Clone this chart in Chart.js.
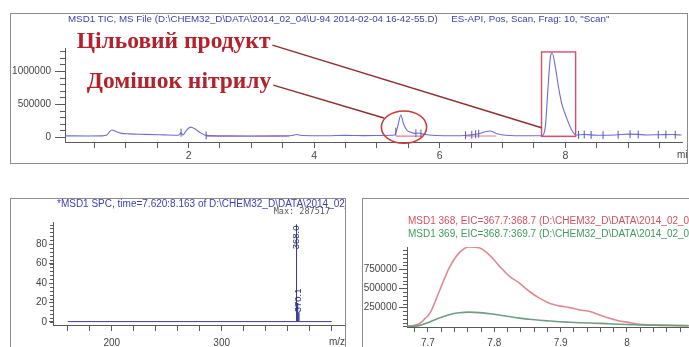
<!DOCTYPE html>
<html>
<head>
<meta charset="utf-8">
<script src="https://cdn.jsdelivr.net/npm/chart.js@4.4.1/dist/chart.umd.min.js"></script>
<style>
  html, body { margin: 0; padding: 0; background: #fff; width: 689px; height: 347px; overflow: hidden; }
  .panel { position: absolute; border: 1px solid #8c8c8c; overflow: hidden; background: #fff; }
  #ticPanel { left: 10px; top: 13px; width: 676px; height: 149px; }
  #spcPanel { left: 10px; top: 198px; width: 334px; height: 160px; }
  #eicPanel { left: 362px; top: 198px; width: 340px; height: 160px; }
  canvas { position: absolute; left: 0; top: 0; }
</style>
</head>
<body>
<div class="panel" id="ticPanel"><canvas id="tic" width="676" height="149"></canvas></div>
<div class="panel" id="spcPanel"><canvas id="spc" width="334" height="148"></canvas></div>
<div class="panel" id="eicPanel"><canvas id="eic" width="326" height="148"></canvas></div>
<script>
// ---- Total ion chromatogram (retention time, min / counts) ----
const ticTime = [0.04, 0.40, 0.62, 0.70, 0.74, 0.78, 0.84, 0.92, 1.05, 1.30, 1.60, 1.84, 1.88, 1.91, 1.96, 2.03, 2.10, 2.18, 2.28, 2.60,
  3.00, 3.40, 3.65, 3.72, 3.80, 4.20, 4.50, 4.80, 5.10, 5.28, 5.33, 5.38, 5.42, 5.47, 5.53, 5.60, 5.66, 5.72, 5.80, 5.95,
  6.20, 6.45, 6.60, 6.72, 6.80, 6.90, 7.05, 7.40, 7.62, 7.68, 7.72, 7.76, 7.79, 7.84, 7.89, 7.94, 8.02, 8.10, 8.17, 8.30,
  8.50, 8.80, 9.00, 9.15, 9.30, 9.50, 9.70, 9.85];
const ticIntensity = [18000, 16000, 18000, 30000, 80000, 106000, 85000, 60000, 48000, 40000, 33000, 28000, 65000, 32000, 95000, 150000, 125000, 70000, 25000, 18000,
  17000, 18000, 24000, 38000, 24000, 20000, 26000, 22000, 24000, 30000, 160000, 335000, 210000, 110000, 75000, 55000, 62000, 48000, 35000, 24000,
  20000, 28000, 45000, 80000, 92000, 55000, 28000, 20000, 20000, 150000, 700000, 1200000, 1275000, 1065000, 760000, 515000, 290000, 106000, 30000, 38000,
  28000, 32000, 45000, 40000, 32000, 35000, 38000, 30000];
// integration baselines and peak start/stop marks
const intStart = [2.28, 5.30, 6.41, 7.64];
const intEnd   = [3.60, 5.72, 6.90, 8.16];
const intLevel = [12000, 14000, 16000, 10000];
const markTime = [1.88, 2.28, 5.30, 5.62, 5.70, 6.41, 6.51, 6.57, 6.62, 8.21, 8.30, 8.41, 8.60, 8.84, 9.03, 9.16, 9.48, 9.60, 9.75];
const ticTicksX = [2, 4, 6, 8];
const ticTicksY = [0, 500000, 1000000];

// ---- Averaged mass spectrum over the product peak ----
const spcWindow = [7.620, 8.163];
const spcScan = [160, 400];
const spcPeakMz = [368.0, 369.0, 370.1];
const spcPeakRel = [100, 19, 10];
const spcPeakLabels = ['368.0', '', '370.1'];
const spcMax = 287517;
const spcTicksX = [200, 300];
const spcTicksY = [0, 20, 40, 60, 80];

// ---- Extracted ion chromatograms ----
const eicTime = [7.668, 7.680, 7.688, 7.695, 7.703, 7.717, 7.732, 7.747, 7.762, 7.777, 7.792, 7.808, 7.823, 7.838,
  7.853, 7.868, 7.883, 7.898, 7.914, 7.929, 7.944, 7.959, 7.974, 7.989, 8.005, 8.020, 8.050, 8.093];
const eic368 = [3000, 15000, 42000, 99000, 174000, 458000, 766000, 963000, 1040000, 1029000, 941000, 787000, 655000, 568000,
  458000, 371000, 305000, 270000, 247000, 217000, 195000, 151000, 108000, 72000, 50000, 29000, 20000, 11000];
const eic369 = [2000, 5000, 15000, 35000, 60000, 110000, 155000, 180000, 188000, 182000, 168000, 151000, 130000, 110000,
  95000, 82000, 72000, 63000, 56000, 50000, 45000, 41000, 35000, 29000, 25000, 20000, 15000, 10000];
const eicTicksX = [7.7, 7.8, 7.9, 8.0];
const eicTicksY = [250000, 500000, 750000];

const FILE = 'D:\\CHEM32_D\\DATA\\2014_02_04\\U-94 2014-02-04 16-42-55.D';
const SANS = '"Liberation Sans", Arial, sans-serif';
const AXIS = '#5a5a5a';
const LABEL = '#454545';

const zip = (xs, ys) => xs.map((x, i) => ({ x, y: ys[i] }));
const has = (list, v) => list.some(t => Math.abs(t - v) < 1e-6);
const fixedTicks = list => scale => { scale.ticks = list.map(value => ({ value })); };
function interp(xs, ys, x) {
  for (let i = 1; i < xs.length; i++) {
    if (x <= xs[i]) { const f = (x - xs[i - 1]) / (xs[i] - xs[i - 1]); return ys[i - 1] + f * (ys[i] - ys[i - 1]); }
  }
  return ys[ys.length - 1];
}

// short unlabeled ticks between the major ones
function minorTicks(spec) {
  return {
    id: 'minorTicks',
    afterDraw(chart) {
      const { ctx, chartArea: a } = chart;
      ctx.save();
      ctx.strokeStyle = AXIS; ctx.lineWidth = 1;
      ctx.beginPath();
      for (const axis of ['x', 'y']) {
        const s = spec[axis]; if (!s) continue;
        const scale = chart.scales[axis];
        for (let k = Math.ceil(scale.min / s.step - 1e-9); k * s.step <= scale.max + 1e-9; k++) {
          const p = Math.round(scale.getPixelForValue(k * s.step)) + 0.5;
          if (axis === 'y') { ctx.moveTo(a.left - s.len, p); ctx.lineTo(a.left, p); }
          else { ctx.moveTo(p, a.bottom); ctx.lineTo(p, a.bottom + s.len); }
        }
      }
      ctx.stroke();
      ctx.restore();
    }
  };
}

// header lines and axis unit captions
function captions(items) {
  return {
    id: 'captions',
    afterDraw(chart) {
      const ctx = chart.ctx;
      for (const t of items) {
        const p = typeof t.at === 'function' ? t.at(chart) : t.at;
        ctx.save();
        ctx.font = t.font; ctx.fillStyle = t.color;
        ctx.textAlign = t.align || 'left'; ctx.textBaseline = 'middle';
        ctx.translate(p[0], p[1]);
        if (t.rotate) ctx.rotate(t.rotate);
        ctx.fillText(t.text, 0, 0);
        ctx.restore();
      }
    }
  };
}

function axisCommon(tickLength, padding) {
  return {
    type: 'linear',
    border: { display: true, color: AXIS, width: 1 },
    grid: { drawOnChartArea: false, drawTicks: true, tickLength, color: AXIS },
    ticks: { autoSkip: false, includeBounds: false, maxRotation: 0, padding, color: LABEL, font: { family: SANS, size: 10 } }
  };
}

// ================= TIC =================
const ticBase = [];
intStart.forEach((s, i) => { ticBase.push({ x: s, y: intLevel[i] }, { x: intEnd[i], y: intLevel[i] }, { x: intEnd[i] + 0.001, y: null }); });
const ticMarks = markTime.map(t => ({ x: t, y: interp(ticTime, ticIntensity, t) }));

const productNote = { text: 'Цільовий продукт', at: [0.22, 1348000], to: [7.62, 140000] };
const impurityNote = { text: 'Домішок нітрилу', at: [0.38, 742000], to: [5.11, 290000] };
const impurityRing = { center: [5.43, 150000], radius: [0.36, 245000] };
const productBox = { top: 1290000, bottom: 10000 };
const NOTE_FONT = 'bold 23.5px "Liberation Serif", "DejaVu Serif", serif';

const ticNotes = {
  id: 'ticNotes',
  afterDraw(chart) {
    const { ctx } = chart; const X = chart.scales.x, Y = chart.scales.y;
    ctx.save();
    // product window (same window the spectrum is averaged over)
    ctx.strokeStyle = '#d4506e'; ctx.lineWidth = 1.4;
    const x0 = X.getPixelForValue(spcWindow[0]), x1 = X.getPixelForValue(spcWindow[1]);
    const y0 = Y.getPixelForValue(productBox.top), y1 = Y.getPixelForValue(productBox.bottom);
    ctx.strokeRect(x0, y0, x1 - x0, y1 - y0);
    // impurity ring
    ctx.strokeStyle = '#c8393a'; ctx.lineWidth = 1.5;
    const cx = X.getPixelForValue(impurityRing.center[0]), cy = Y.getPixelForValue(impurityRing.center[1]);
    const rx = X.getPixelForValue(impurityRing.center[0] + impurityRing.radius[0]) - cx;
    const ry = cy - Y.getPixelForValue(impurityRing.center[1] + impurityRing.radius[1]);
    ctx.beginPath(); ctx.ellipse(cx, cy, rx, ry, 0, 0, Math.PI * 2); ctx.stroke();
    // labels with leader lines
    ctx.font = NOTE_FONT; ctx.textBaseline = 'alphabetic'; ctx.textAlign = 'left';
    for (const n of [productNote, impurityNote]) {
      const lx = X.getPixelForValue(n.at[0]), ly = Y.getPixelForValue(n.at[1]);
      ctx.fillStyle = '#b3222c';
      ctx.fillText(n.text, lx, ly);
      const w = ctx.measureText(n.text).width;
      ctx.strokeStyle = '#8e2e30'; ctx.lineWidth = 1.5;
      ctx.beginPath();
      ctx.moveTo(lx + w + 2, ly - 3);
      ctx.lineTo(X.getPixelForValue(n.to[0]), Y.getPixelForValue(n.to[1]));
      ctx.stroke();
    }
    ctx.restore();
  }
};

const ticX = axisCommon(6, 2);
Object.assign(ticX, { min: 0.032, max: 9.857, afterFit(s) { s.height = 21; } });
Object.assign(ticX.ticks, { stepSize: 0.5, font: { family: SANS, size: 10.5 }, callback: v => has(ticTicksX, v) ? String(v) : '' });
const ticY = axisCommon(10, 4);
Object.assign(ticY, { min: -75000, max: 1350000, afterFit(s) { s.width = 54; }, afterBuildTicks: fixedTicks(ticTicksY) });
Object.assign(ticY.ticks, { callback: v => String(v) });

new Chart(document.getElementById('tic'), {
  type: 'line',
  data: {
    datasets: [
      { data: ticBase, borderColor: '#e47aa2', borderWidth: 1.2, pointRadius: 0, spanGaps: false, order: 3 },
      { data: zip(ticTime, ticIntensity), borderColor: '#6d6dd2', borderWidth: 1.1, pointRadius: 0, cubicInterpolationMode: 'monotone', order: 2 },
      { type: 'scatter', data: ticMarks, pointStyle: 'line', rotation: 90, pointRadius: 4, borderColor: '#5656b8', borderWidth: 1, order: 1 }
    ]
  },
  options: {
    responsive: false, animation: false, events: [],
    layout: { padding: { left: 0, top: 34, right: 3, bottom: 0 } },
    plugins: { legend: { display: false }, title: { display: false }, tooltip: { enabled: false } },
    scales: { x: ticX, y: ticY }
  },
  plugins: [
    minorTicks({ y: { step: 100000, len: 5 } }),
    ticNotes,
    captions([
      { text: 'MSD1 TIC, MS File (' + FILE + ')     ES-API, Pos, Scan, Frag: 10, "Scan"', at: [57, 5.5], font: '9.75px ' + SANS, color: '#3d3fae' },
      { text: 'min', at: c => [c.chartArea.right - 5, c.chartArea.bottom + 13.5], font: '10px ' + SANS, color: LABEL }
    ])
  ]
});

// ================= Spectrum =================
const spcPoints = [{ x: spcScan[0], y: 0.4 }];
spcPeakMz.forEach((m, i) => { spcPoints.push({ x: m - 0.05, y: 0.4 }, { x: m, y: spcPeakRel[i] }, { x: m + 0.05, y: 0.4 }); });
spcPoints.push({ x: spcScan[1], y: 0.4 });

const spcX = axisCommon(6, 6);
Object.assign(spcX, { min: 146.6, max: 412.1, afterFit(s) { s.height = 22; } });
Object.assign(spcX.ticks, { stepSize: 20, callback: v => has(spcTicksX, v) ? String(v) : '' });
const spcY = axisCommon(4, 2);
Object.assign(spcY, { min: -3.1, max: 102.6, afterFit(s) { s.width = 42; }, afterBuildTicks: fixedTicks(spcTicksY) });
Object.assign(spcY.ticks, { callback: v => String(v) });

const spcLabelItems = [];
spcPeakMz.forEach((m, i) => {
  if (!spcPeakLabels[i]) return;
  const atTop = spcPeakRel[i] > 50;
  spcLabelItems.push({
    text: spcPeakLabels[i], rotate: -Math.PI / 2, align: atTop ? 'right' : 'left',
    at: c => [c.scales.x.getPixelForValue(m), atTop ? c.scales.y.getPixelForValue(spcPeakRel[i]) + 1 : c.scales.y.getPixelForValue(spcPeakRel[i])],
    font: '9.5px ' + SANS, color: '#2a2a5c'
  });
});

new Chart(document.getElementById('spc'), {
  type: 'line',
  data: { datasets: [{ data: spcPoints, borderColor: '#3c3c9c', borderWidth: 1, pointRadius: 0 }] },
  options: {
    responsive: false, animation: false, events: [],
    layout: { padding: { left: 0, top: 23, right: 0, bottom: 0 } },
    plugins: { legend: { display: false }, title: { display: false }, tooltip: { enabled: false } },
    scales: { x: spcX, y: spcY }
  },
  plugins: [
    minorTicks({ y: { step: 4, len: 3 } }),
    captions([
      { text: '*MSD1 SPC, time=' + spcWindow[0].toFixed(3) + ':' + spcWindow[1].toFixed(3) + ' of ' + FILE, at: [46, 5], font: '10px ' + SANS, color: '#3d3fae' },
      { text: 'Max: ' + spcMax, at: c => [c.chartArea.right - 15, 13], align: 'right', font: '8.5px "DejaVu Sans Mono", monospace', color: '#555' },
      { text: 'm/z', at: c => [c.chartArea.right - 16, c.chartArea.bottom + 17], font: '10px ' + SANS, color: LABEL },
      ...spcLabelItems
    ])
  ]
});

// ================= EIC =================
const eicX = axisCommon(5, 5);
Object.assign(eicX, { min: 7.6684, max: 8.0935, afterFit(s) { s.height = 20; } });
Object.assign(eicX.ticks, { stepSize: 0.02, callback: v => has(eicTicksX, v) ? String(+v.toFixed(1)) : '' });
const eicY = axisCommon(8, 2);
Object.assign(eicY, { min: -6579, max: 1040000, afterFit(s) { s.width = 44; }, afterBuildTicks: fixedTicks(eicTicksY) });
Object.assign(eicY.ticks, { callback: v => String(v) });

new Chart(document.getElementById('eic'), {
  type: 'line',
  data: {
    datasets: [
      { data: zip(eicTime, eic369), borderColor: '#6f9f80', borderWidth: 1.6, pointRadius: 0, cubicInterpolationMode: 'monotone' },
      { data: zip(eicTime, eic368), borderColor: '#de8a93', borderWidth: 1.6, pointRadius: 0, cubicInterpolationMode: 'monotone' }
    ]
  },
  options: {
    responsive: false, animation: false, events: [],
    layout: { padding: { left: 0, top: 48, right: 0, bottom: 0 } },
    plugins: { legend: { display: false }, title: { display: false }, tooltip: { enabled: false } },
    scales: { x: eicX, y: eicY }
  },
  plugins: [
    minorTicks({ y: { step: 50000, len: 4 } }),
    captions([
      { text: 'MSD1 368, EIC=367.7:368.7 (' + FILE + ')', at: [45, 22], font: '10px ' + SANS, color: '#d2505e' },
      { text: 'MSD1 369, EIC=368.7:369.7 (' + FILE + ')', at: [45, 35], font: '10px ' + SANS, color: '#3f9a5e' }
    ])
  ]
});
</script>
</body>
</html>
